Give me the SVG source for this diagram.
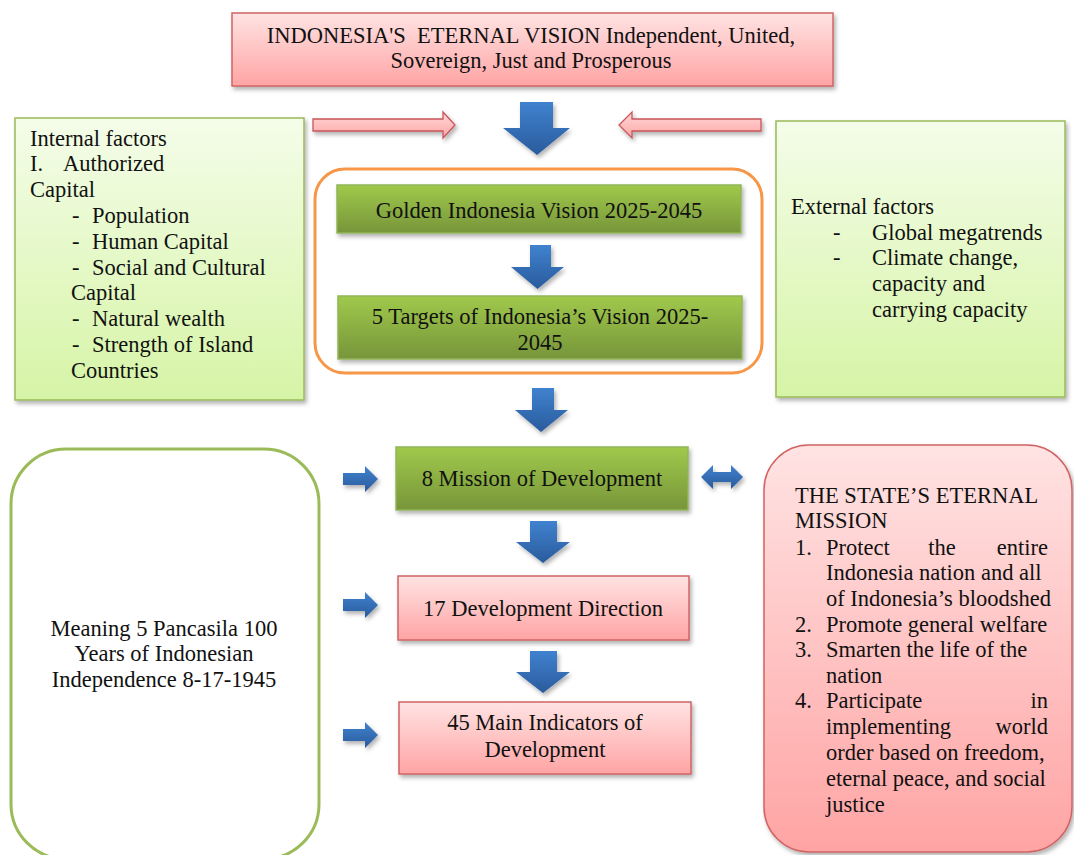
<svg xmlns="http://www.w3.org/2000/svg" width="1074" height="855" viewBox="0 0 1074 855" font-family="'Liberation Serif', 'Times New Roman', 'DejaVu Serif', serif">
<defs>
<linearGradient id="gPink" x1="0" y1="0" x2="0" y2="1"><stop offset="0" stop-color="#ffe3e3"/><stop offset="1" stop-color="#ffa4a4"/></linearGradient>
<linearGradient id="gPinkArrow" x1="0" y1="0" x2="0" y2="1"><stop offset="0" stop-color="#ffd6d6"/><stop offset="1" stop-color="#ffa8a8"/></linearGradient>
<linearGradient id="gGreen" x1="0" y1="0" x2="0" y2="1"><stop offset="0" stop-color="#a0c94b"/><stop offset="1" stop-color="#77953a"/></linearGradient>
<linearGradient id="gLight" x1="0" y1="0" x2="0" y2="1"><stop offset="0" stop-color="#f4fde9"/><stop offset="1" stop-color="#d6f4a6"/></linearGradient>
<linearGradient id="gBlue" x1="0" y1="0" x2="0" y2="1"><stop offset="0" stop-color="#4082cf"/><stop offset="1" stop-color="#2a5b9c"/></linearGradient>
<filter id="sh" x="-10%" y="-10%" width="130%" height="130%"><feDropShadow dx="2" dy="3" stdDeviation="2" flood-color="#000" flood-opacity="0.3"/></filter>
</defs>
<style>
text{font-family:"Liberation Serif","Times New Roman","DejaVu Serif",serif;font-size:22.5px;fill:#111111}
.c{text-anchor:middle}
.e{text-anchor:end}
.pink{fill:url(#gPink);stroke:#d06464;stroke-width:1.5}
.green{fill:url(#gGreen);stroke:#93b55a;stroke-width:1.5}
.light{fill:url(#gLight);stroke:#9bbb59;stroke-width:1.5}
.blue{fill:url(#gBlue);stroke:none}
.parrow{fill:url(#gPinkArrow);stroke:#c8565a;stroke-width:1.3}
</style>
<rect width="1074" height="855" fill="#ffffff"/>

<g id="vision">
<rect class="pink" x="232" y="13" width="601" height="73" filter="url(#sh)"/>
<text class="c" x="531" y="43" xml:space="preserve">INDONESIA'S  ETERNAL VISION Independent, United,</text>
<text class="c" x="531" y="68">Sovereign, Just and Prosperous</text>
</g>

<g id="internal">
<rect class="light" x="15" y="118" width="289" height="282" filter="url(#sh)"/>
<text x="30" y="146">Internal factors</text>
<text x="30" y="171">I.</text><text x="63" y="171">Authorized</text>
<text x="30" y="197">Capital</text>
<text x="72" y="223">-</text><text x="92" y="223">Population</text>
<text x="72" y="249">-</text><text x="92" y="249">Human Capital</text>
<text x="72" y="275">-</text><text x="92" y="275">Social and Cultural</text>
<text x="71" y="300">Capital</text>
<text x="72" y="326">-</text><text x="92" y="326">Natural wealth</text>
<text x="72" y="352">-</text><text x="92" y="352">Strength of Island</text>
<text x="71" y="378">Countries</text>
</g>

<g id="external">
<rect class="light" x="776" y="121" width="289" height="276" filter="url(#sh)"/>
<text x="791" y="214">External factors</text>
<text x="833" y="240">-</text><text x="872" y="240">Global megatrends</text>
<text x="833" y="265">-</text><text x="872" y="265">Climate change,</text>
<text x="872" y="291">capacity and</text>
<text x="872" y="317">carrying capacity</text>
</g>

<g id="vision-group">
<rect x="315" y="169" width="447" height="204" rx="30" ry="30" fill="none" stroke="#f79646" stroke-width="3"/>
</g>

<g id="golden">
<rect class="green" x="337" y="185" width="404" height="48" filter="url(#sh)"/>
<text class="c" x="539" y="218">Golden Indonesia Vision 2025-2045</text>
</g>

<g id="targets">
<rect class="green" x="338" y="296" width="404" height="63" filter="url(#sh)"/>
<text class="c" x="540" y="324">5 Targets of Indonesia’s Vision 2025-</text>
<text class="c" x="540" y="350">2045</text>
</g>

<g id="mission">
<rect class="green" x="396" y="447" width="292" height="63" filter="url(#sh)"/>
<text class="c" x="542" y="486">8 Mission of Development</text>
</g>

<g id="direction">
<rect class="pink" x="398" y="576" width="291" height="64" filter="url(#sh)"/>
<text class="c" x="543" y="616">17 Development Direction</text>
</g>

<g id="indicators">
<rect class="pink" x="399" y="702" width="292" height="72" filter="url(#sh)"/>
<text class="c" x="545" y="730">45 Main Indicators of</text>
<text class="c" x="545" y="757">Development</text>
</g>

<g id="pancasila">
<rect x="11" y="449" width="308" height="410" rx="55" ry="55" fill="#ffffff" stroke="#9bbb59" stroke-width="3"/>
<text class="c" x="164" y="636">Meaning 5 Pancasila 100</text>
<text class="c" x="164" y="661">Years of Indonesian</text>
<text class="c" x="164" y="687">Independence 8-17-1945</text>
</g>

<g id="state-mission">
<rect x="764" y="445" width="308" height="407" rx="45" ry="45" fill="url(#gPink)" stroke="#d06464" stroke-width="1.5" filter="url(#sh)"/>
<text x="795" y="503">THE STATE’S ETERNAL</text>
<text x="795" y="528">MISSION</text>
<text x="795" y="555">1.</text><text x="826" y="555">Protect</text><text class="c" x="942" y="555">the</text><text class="e" x="1048" y="555">entire</text>
<text x="826" y="580">Indonesia nation and all</text>
<text x="826" y="606">of Indonesia’s bloodshed</text>
<text x="795" y="632">2.</text><text x="826" y="632">Promote general welfare</text>
<text x="795" y="657">3.</text><text x="826" y="657">Smarten the life of the</text>
<text x="826" y="683">nation</text>
<text x="795" y="708">4.</text><text x="826" y="708">Participate</text><text class="e" x="1048" y="708">in</text>
<text x="826" y="734">implementing</text><text class="e" x="1048" y="734">world</text>
<text x="826" y="760">order based on freedom,</text>
<text x="826" y="786">eternal peace, and social</text>
<text x="826" y="812">justice</text>
</g>

<g id="connectors">
<path class="parrow" d="M313,119 H443 V112 L455,125 L443,138 V131 H313 Z" filter="url(#sh)"/>
<path class="parrow" d="M761,119 H632 V112 L619,125 L632,138 V131 H761 Z" filter="url(#sh)"/>
<path class="blue" d="M520,102 H553 V128 H570 L537,155 L503,128 H520 Z" filter="url(#sh)"/>
<path class="blue" d="M530,245 H551 V267 H564 L537.5,289 L511,267 H530 Z" filter="url(#sh)"/>
<path class="blue" d="M532,388 H554 V410 H568 L541,432 L515,410 H532 Z" filter="url(#sh)"/>
<path class="blue" d="M530,521 H557 V542 H570 L543,563 L516,542 H530 Z" filter="url(#sh)"/>
<path class="blue" d="M530,651 H557 V672 H570 L543,693 L516,672 H530 Z" filter="url(#sh)"/>
<path class="blue" d="M343,473 H365 V466 L378,479 L365,492 V485 H343 Z" filter="url(#sh)"/>
<path class="blue" d="M343,599 H365 V592 L378,605 L365,618 V611 H343 Z" filter="url(#sh)"/>
<path class="blue" d="M343,729 H365 V722 L378,735 L365,748 V741 H343 Z" filter="url(#sh)"/>
<path class="blue" d="M701,477 L713,465 V472 H731 V465 L743,477 L731,489 V482 H713 V489 Z" filter="url(#sh)"/>
</g>
</svg>
